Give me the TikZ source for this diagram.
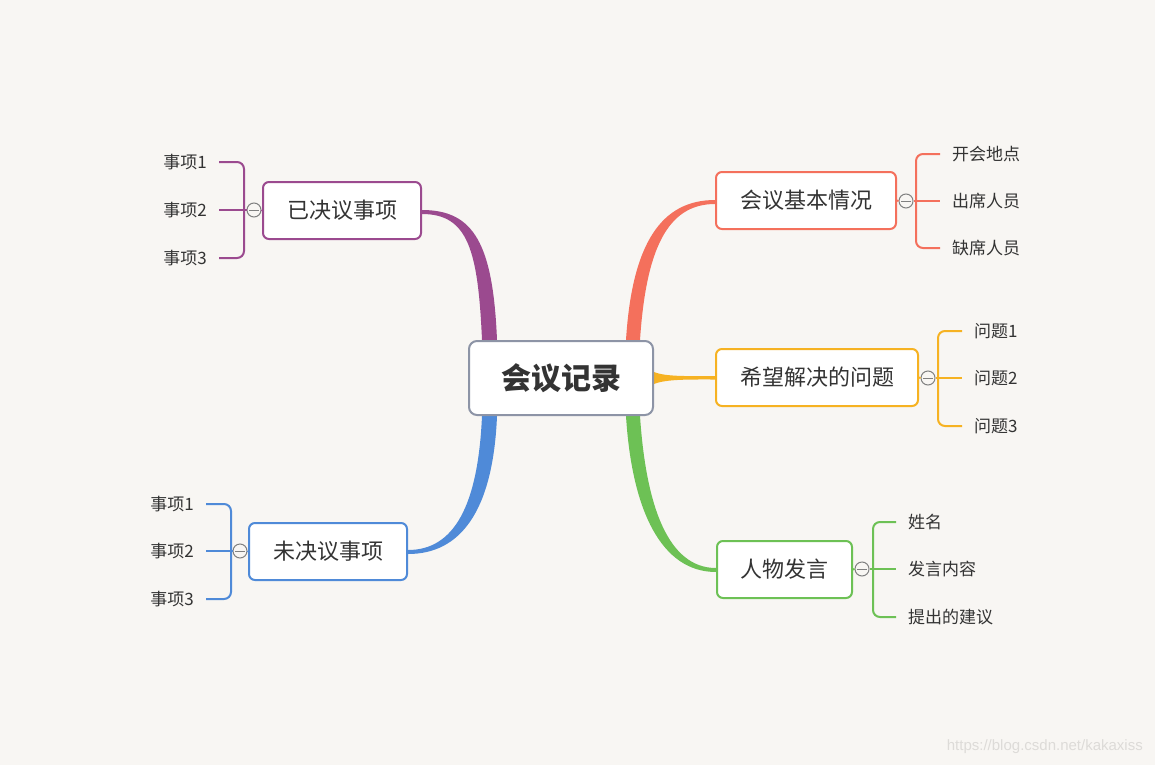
\documentclass[tikz,border=0pt]{standalone}
\usepackage{fontspec}
\newfontfamily\cjk{Noto Sans CJK SC}
\newfontfamily\wm{Liberation Sans}
\usetikzlibrary{calc,backgrounds}
\definecolor{bg}{HTML}{F8F6F3}
\definecolor{txt}{HTML}{333333}
\definecolor{cred}{HTML}{F4705C}
\definecolor{cora}{HTML}{F6B222}
\definecolor{cgrn}{HTML}{6DC155}
\definecolor{cpur}{HTML}{9B4A8F}
\definecolor{cblu}{HTML}{4F8AD8}
\definecolor{cgry}{HTML}{8D94A6}
\definecolor{cknob}{HTML}{808080}
\definecolor{wmark}{HTML}{DDDBD8}
\tikzset{
  topicbox/.style={draw, line width=2pt, rounded corners=6pt, fill=white, minimum height=57pt, text=txt, inner sep=0pt, font=\cjk\fontsize{22}{26}\selectfont},
  leafw/.style={anchor=west, inner xsep=12pt, inner ysep=2pt, text=txt, font=\cjk\fontsize{17}{20}\selectfont},
  leafe/.style={anchor=east, inner xsep=12pt, inner ysep=2pt, text=txt, font=\cjk\fontsize{17}{20}\selectfont},
  knob/.style={circle, draw=cknob, line width=1pt, fill=bg, minimum size=14pt, inner sep=0pt},
  knobbar/.style={draw=cknob, line width=1pt},
  bline/.style={line width=2pt, rounded corners=7pt},
}
\begin{document}
\begin{tikzpicture}[x=1pt,y=-1pt]
\path[use as bounding box] (0,0) rectangle (1155,765);

% central topic
\node[draw=cgry, line width=2pt, rounded corners=8pt, fill=white, minimum width=184pt, minimum height=74pt, inner sep=0pt, text=txt, font=\cjk\bfseries\fontsize{30}{34}\selectfont] (c) at (561,378) {会议记录};

% main topics
\node[topicbox, draw=cred, minimum width=180pt] (b1) at (806,200.5) {会议基本情况};
\node[topicbox, draw=cora, minimum width=202pt] (b2) at (817,377.5) {希望解决的问题};
\node[topicbox, draw=cgrn, minimum width=135pt] (b3) at (784.5,569.5) {人物发言};
\node[topicbox, draw=cpur, minimum width=158pt] (b4) at (342,210.5) {已决议事项};
\node[topicbox, draw=cblu, minimum width=158pt] (b5) at (328,551.5) {未决议事项};

% collapse knobs
\node[knob] (k1) at (906,201) {};
\node[knob] (k2) at (928,378) {};
\node[knob] (k3) at (862,569) {};
\node[knob] (k4) at (254,210) {};
\node[knob] (k5) at (240,551) {};
\foreach \k in {k1,k2,k3,k4,k5}{
  \draw[knobbar] ($(\k.west)+(2.5,0)$) -- ($(\k.east)+(-2.5,0)$);
}

% leaves
\node[leafw] (l11) at (940,154) {开会地点};
\node[leafw] (l12) at (940,201) {出席人员};
\node[leafw] (l13) at (940,248) {缺席人员};
\node[leafw] (l21) at (962,331) {问题1};
\node[leafw] (l22) at (962,378) {问题2};
\node[leafw] (l23) at (962,426) {问题3};
\node[leafw] (l31) at (896,522) {姓名};
\node[leafw] (l32) at (896,569) {发言内容};
\node[leafw] (l33) at (896,617) {提出的建议};
\node[leafe] (l41) at (219,162) {事项1};
\node[leafe] (l42) at (219,210) {事项2};
\node[leafe] (l43) at (219,258) {事项3};
\node[leafe] (l51) at (206,504) {事项1};
\node[leafe] (l52) at (206,551) {事项2};
\node[leafe] (l53) at (206,599) {事项3};

% bracket joints
\coordinate (j1) at (916,201);
\coordinate (j2) at (938,378);
\coordinate (j3) at (873,569);
\coordinate (j4) at (244,210);
\coordinate (j5) at (231,551);

% brackets
\draw[cred, bline] (l11.west) -| (j1) |- (l13.west);
\draw[cred, line width=2pt] (k1.east) -- (l12.west);
\draw[cred, line width=2pt] (b1.east) -- (k1.west);
\draw[cora, bline] (l21.west) -| (j2) |- (l23.west);
\draw[cora, line width=2pt] (k2.east) -- (l22.west);
\draw[cora, line width=2pt] (b2.east) -- (k2.west);
\draw[cgrn, bline] (l31.west) -| (j3) |- (l33.west);
\draw[cgrn, line width=2pt] (k3.east) -- (l32.west);
\draw[cgrn, line width=2pt] (b3.east) -- (k3.west);
\draw[cpur, bline] (l41.east) -| (j4) |- (l43.east);
\draw[cpur, line width=2pt] (k4.west) -- (l42.east);
\draw[cpur, line width=2pt] (b4.west) -- (k4.east);
\draw[cblu, bline] (l51.east) -| (j5) |- (l53.east);
\draw[cblu, line width=2pt] (k5.west) -- (l52.east);
\draw[cblu, line width=2pt] (b5.west) -- (k5.east);

% watermark
\node[anchor=east, text=wmark, font=\wm\fontsize{15}{18}\selectfont, inner sep=0pt] (wm) at (1143,747) {https://blog.csdn.net/kakaxiss};

\begin{scope}[on background layer]
\fill[bg] (0,0) rectangle (1155,765);
% red: top right
\fill[cred] ($(c.north)+(65,0)$) .. controls +(6,-96) and +(-54,0) .. ($(b1.west)+(0,-0.5)$)
  -- ($(b1.west)+(0,3.5)$) .. controls +(-48,0) and +(6,-90) .. ($(c.north)+(79,0)$) -- cycle;
% green: bottom right
\fill[cgrn] ($(c.south)+(65,0)$) .. controls +(6,96) and +(-54,0) .. ($(b3.west)+(0,2.5)$)
  -- ($(b3.west)+(0,-1.5)$) .. controls +(-48,0) and +(6,90) .. ($(c.south)+(79,0)$) -- cycle;
% purple: top left
\fill[cpur] ($(c.north)+(-79,0)$) .. controls +(-4,-90) and +(46,0) .. ($(b4.east)+(0,3.5)$)
  -- ($(b4.east)+(0,-0.5)$) .. controls +(52,0) and +(-4,-96) .. ($(c.north)+(-64,0)$) -- cycle;
% blue: bottom left
\fill[cblu] ($(c.south)+(-64,0)$) .. controls +(-4,96) and +(52,0) .. ($(b5.east)+(0,2.5)$)
  -- ($(b5.east)+(0,-1.5)$) .. controls +(46,0) and +(-4,90) .. ($(c.south)+(-79,0)$) -- cycle;
% orange: straight
\fill[cora] ($(c.east)+(0,-6)$) .. controls +(12,5) and +(-25,0) .. ($(b2.west)+(0,-1.5)$)
  -- ($(b2.west)+(0,2)$) .. controls +(-25,0) and +(12,-5) .. ($(c.east)+(0,6)$) -- cycle;
\end{scope}
\end{tikzpicture}
\end{document}
